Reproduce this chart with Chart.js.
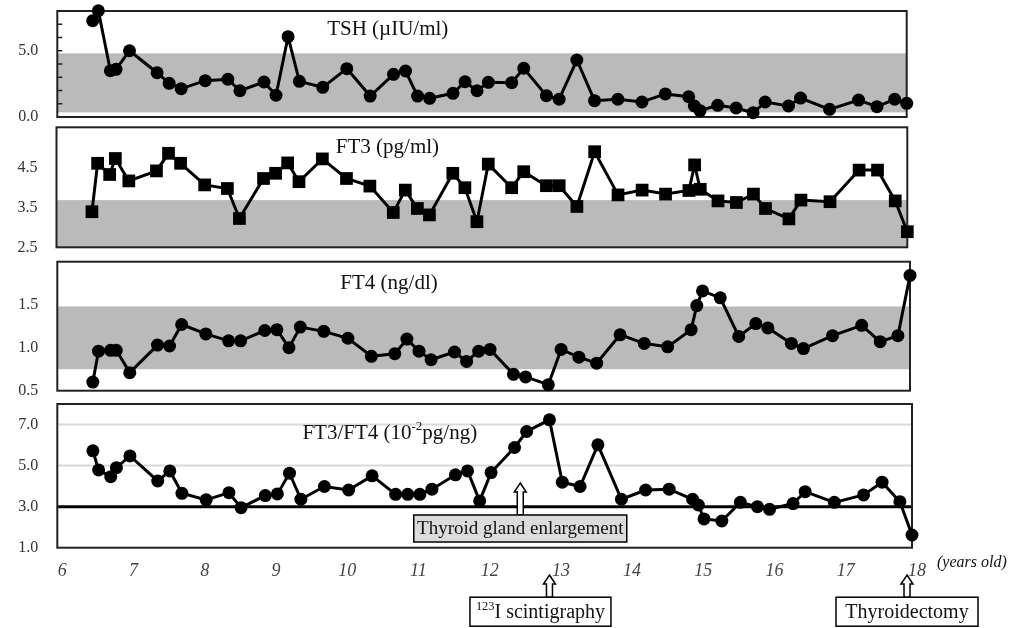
<!DOCTYPE html>
<html lang="en">
<head>
<meta charset="UTF-8">
<title>Thyroid function from 6 to 18 years old</title>
<script src="https://cdn.jsdelivr.net/npm/chart.js"></script>
<style>
  html, body { margin: 0; padding: 0; background: #fff; }
  #wrap { position: relative; width: 1026px; height: 628px; overflow: hidden; }
  #wrap canvas { position: absolute; left: 0; }
</style>
</head>
<body>
<div id="wrap">
  <canvas id="tsh"></canvas>
  <canvas id="ft3"></canvas>
  <canvas id="ft4"></canvas>
  <canvas id="ratio"></canvas>
</div>
<script>
// age at each blood test (years)
const ages = [6.50, 6.58, 6.75, 6.83, 7.02, 7.41, 7.58, 7.75, 8.09, 8.41,
              8.58, 8.92, 9.09, 9.26, 9.42, 9.75, 10.09, 10.42, 10.75, 10.92,
              11.09, 11.26, 11.59, 11.76, 11.93, 12.09, 12.42, 12.59, 12.91, 13.09,
              13.34, 13.59, 13.92, 14.26, 14.59, 14.92, 15.00, 15.08, 15.33, 15.59,
              15.83, 16.00, 16.33, 16.50, 16.91, 17.32, 17.58, 17.83, 18.00];

const tsh = [7.27, 8.02, 3.49, 3.60, 5.00, 3.34, 2.54, 2.14, 2.74, 2.85,
             1.98, 2.64, 1.64, 6.06, 2.69, 2.24, 3.65, 1.58, 3.22, 3.47,
             1.58, 1.41, 1.79, 2.66, 1.98, 2.62, 2.59, 3.68, 1.61, 1.34,
             4.30, 1.23, 1.34, 1.13, 1.74, 1.53, 0.83, 0.48, 0.88, 0.68,
             0.32, 1.13, 0.83, 1.43, 0.58, 1.28, 0.78, 1.34, 1.03];

const ft3 = [3.39, 4.60, 4.32, 4.72, 4.16, 4.41, 4.85, 4.60, 4.06, 3.97,
             3.22, 4.22, 4.35, 4.61, 4.14, 4.71, 4.22, 4.03, 3.37, 3.93,
             3.47, 3.31, 4.35, 3.99, 3.14, 4.58, 3.99, 4.39, 4.04, 4.04,
             3.52, 4.89, 3.81, 3.93, 3.83, 3.92, 4.56, 3.95, 3.66, 3.62,
             3.83, 3.47, 3.21, 3.68, 3.64, 4.43, 4.43, 3.66, 2.89];

const ft4 = [0.60, 0.96, 0.97, 0.97, 0.71, 1.03, 1.02, 1.27, 1.16, 1.08,
             1.08, 1.20, 1.21, 1.00, 1.24, 1.19, 1.11, 0.90, 0.93, 1.10,
             0.96, 0.86, 0.95, 0.84, 0.96, 0.98, 0.69, 0.66, 0.57, 0.98,
             0.89, 0.82, 1.15, 1.05, 1.01, 1.21, 1.49, 1.66, 1.58, 1.13,
             1.28, 1.23, 1.05, 0.99, 1.14, 1.26, 1.07, 1.14, 1.84];

const ratio = [5.72, 4.79, 4.46, 4.90, 5.47, 4.25, 4.74, 3.65, 3.33, 3.68,
               2.95, 3.54, 3.62, 4.63, 3.36, 3.98, 3.81, 4.50, 3.60, 3.60,
               3.60, 3.85, 4.55, 4.74, 3.28, 4.66, 5.88, 6.66, 7.23, 4.19,
               3.98, 6.01, 3.36, 3.81, 3.85, 3.36, 3.08, 2.40, 2.30, 3.21,
               3.00, 2.87, 3.15, 3.73, 3.21, 3.57, 4.19, 3.24, 1.62];

// tick labels
const xTicks = [6, 7, 8, 9, 10, 11, 12, 13, 14, 15, 16, 17, 18];
const tshTicks = [0, 5];
const tshMinorTicks = [1, 2, 3, 4, 5, 6, 7];
const ft3Ticks = [2.5, 3.5, 4.5];
const ft4Ticks = [0.5, 1.0, 1.5];
const ratioTicks = [1, 3, 5, 7];

// reference ranges (grey bands) and FT3/FT4 cut-off
const tshRange = [0.35, 4.8];
const ft3Range = [2.3, 3.68];
const ft4Range = [0.75, 1.48];
const ratioCutoff = 3.0;
const ratioGrid = [5, 7];

// events
const enlargementAge = 12.5;
const scintigraphyAge = 12.91;
const thyroidectomyAge = 17.93;

const SERIF = "'Liberation Serif', 'Times New Roman', serif";
const X_AXIS_H = 40;

function drawRich(ctx, parts, cx, cy, size, align) {
  const fonts = parts.map(p => (p.italic ? 'italic ' : '') + (p.sup ? size * 0.62 : size) + 'px ' + SERIF);
  let total = 0;
  const widths = parts.map((p, i) => { ctx.font = fonts[i]; const w = ctx.measureText(p.t).width; total += w; return w; });
  let x = align === 'left' ? cx : cx - total / 2;
  ctx.textBaseline = 'middle';
  ctx.textAlign = 'left';
  ctx.fillStyle = '#111';
  parts.forEach((p, i) => {
    ctx.font = fonts[i];
    ctx.fillText(p.t, x, p.sup ? cy - size * 0.3 : cy);
    x += widths[i];
  });
}

function blockArrow(ctx, cx, tipY, baseY) {
  const sw = 3, hw = 6, hl = 9;
  ctx.beginPath();
  ctx.moveTo(cx, tipY);
  ctx.lineTo(cx + hw, tipY + hl);
  ctx.lineTo(cx + sw, tipY + hl);
  ctx.lineTo(cx + sw, baseY);
  ctx.lineTo(cx - sw, baseY);
  ctx.lineTo(cx - sw, tipY + hl);
  ctx.lineTo(cx - hw, tipY + hl);
  ctx.closePath();
  ctx.fillStyle = '#fff';
  ctx.fill();
  ctx.strokeStyle = '#000';
  ctx.lineWidth = 1.5;
  ctx.stroke();
}

const notes = [
  { age: enlargementAge, parts: [{ t: 'Thyroid gland enlargement' }], tipDy: -64.7, boxDy: -32.7, boxH: 27, boxW: 213, dx: 0, fill: '#dcdcdc', size: 19 },
  { age: scintigraphyAge, parts: [{ t: '123', sup: true }, { t: 'I scintigraphy' }], tipDy: 27.3, boxDy: 49.5, boxH: 29, boxW: 141, dx: -9, fill: '#fff', size: 20 },
  { age: thyroidectomyAge, parts: [{ t: 'Thyroidectomy' }], tipDy: 27.3, boxDy: 49.5, boxH: 29, boxW: 142, dx: 0, fill: '#fff', size: 20 }
];

function deco(p) {
  return {
    id: 'deco_' + p.id,
    beforeDatasetsDraw(chart) {
      const { ctx, chartArea: a, scales: { y } } = chart;
      ctx.save();
      if (p.band) {
        const y1 = Math.max(a.top, y.getPixelForValue(p.band[1]));
        const y0 = Math.min(a.bottom, y.getPixelForValue(p.band[0]));
        ctx.fillStyle = '#bababa';
        ctx.fillRect(a.left, y1, a.right - a.left, y0 - y1);
      }
      (p.grid || []).forEach(v => {
        const py = y.getPixelForValue(v);
        ctx.strokeStyle = '#d9d9d9';
        ctx.lineWidth = 2;
        ctx.beginPath(); ctx.moveTo(a.left, py); ctx.lineTo(a.right, py); ctx.stroke();
      });
      if (p.cutoff != null) {
        const py = y.getPixelForValue(p.cutoff);
        ctx.strokeStyle = '#000';
        ctx.lineWidth = 3;
        ctx.beginPath(); ctx.moveTo(a.left, py); ctx.lineTo(a.right, py); ctx.stroke();
      }
      ctx.strokeStyle = '#222';
      ctx.lineWidth = 2;
      ctx.strokeRect(a.left, a.top, a.right - a.left, a.bottom - a.top);
      (p.minor || []).forEach(v => {
        const py = y.getPixelForValue(v);
        ctx.lineWidth = 1.5;
        ctx.beginPath(); ctx.moveTo(a.left, py); ctx.lineTo(a.left + 5, py); ctx.stroke();
      });
      drawRich(ctx, p.title, a.left + (a.right - a.left) * 0.389, a.top + p.titleDy, 21);
      ctx.restore();
    },
    afterDraw(chart) {
      if (!p.showX) return;
      const { ctx, chartArea: a, scales: { x } } = chart;
      ctx.save();
      drawRich(ctx, [{ t: '(years old)', italic: true }], a.right + 25, a.bottom + 15, 16, 'left');
      notes.forEach(n => {
        const ax = x.getPixelForValue(n.age);
        const boxTop = a.bottom + n.boxDy;
        blockArrow(ctx, ax, a.bottom + n.tipDy, boxTop);
        const bx = ax + n.dx - n.boxW / 2;
        ctx.fillStyle = n.fill;
        ctx.fillRect(bx, boxTop, n.boxW, n.boxH);
        ctx.strokeStyle = '#000';
        ctx.lineWidth = 1.5;
        ctx.strokeRect(bx, boxTop, n.boxW, n.boxH);
        drawRich(ctx, n.parts, bx + n.boxW / 2, boxTop + n.boxH / 2 + 1, n.size);
      });
      ctx.restore();
    }
  };
}

const panels = [
  { id: 'tsh', values: tsh, top: 11, bottom: 117, left: 57.3, right: 906.7, min: 0, max: 8,
    ticks: tshTicks, minor: tshMinorTicks, band: tshRange, point: 'circle', radius: 6.5,
    title: [{ t: 'TSH (µIU/ml)' }], titleDy: 18 },
  { id: 'ft3', values: ft3, top: 127.3, bottom: 247.3, left: 56.5, right: 907.3, min: 2.5, max: 5.5,
    ticks: ft3Ticks, band: ft3Range, point: 'rect', radius: 9,
    title: [{ t: 'FT3 (pg/ml)' }], titleDy: 20 },
  { id: 'ft4', values: ft4, top: 261.7, bottom: 390.7, left: 57.3, right: 910, min: 0.5, max: 2.0,
    ticks: ft4Ticks, band: ft4Range, point: 'circle', radius: 6.5,
    title: [{ t: 'FT4 (ng/dl)' }], titleDy: 22 },
  { id: 'ratio', values: ratio, top: 404, bottom: 547.7, left: 57.3, right: 912, min: 1, max: 8,
    ticks: ratioTicks, grid: ratioGrid, cutoff: ratioCutoff, point: 'circle', radius: 6.5,
    title: [{ t: 'FT3/FT4 (10' }, { t: '-2', sup: true }, { t: 'pg/ng)' }], titleDy: 29,
    showX: true, canvasBottom: 628 }
];

panels.forEach(p => {
  const cv = document.getElementById(p.id);
  const cTop = Math.floor(p.top) - 10;
  const cBottom = p.canvasBottom || Math.ceil(p.bottom) + 10;
  cv.width = 1026;
  cv.height = cBottom - cTop;
  cv.style.top = cTop + 'px';
  const padTop = p.top - cTop;
  const padBottom = cBottom - p.bottom - (p.showX ? X_AXIS_H : 0);

  new Chart(cv, {
    type: 'scatter',
    data: {
      datasets: [{
        data: ages.map((a, i) => ({ x: a, y: p.values[i] })),
        showLine: true,
        borderColor: '#000',
        borderWidth: 3,
        tension: 0,
        pointStyle: p.point,
        pointRadius: p.radius,
        pointHoverRadius: p.radius,
        pointBackgroundColor: '#000',
        pointBorderColor: '#000',
        pointBorderWidth: 0,
        clip: false
      }]
    },
    options: {
      responsive: false,
      animation: false,
      events: [],
      layout: { padding: { top: padTop, bottom: padBottom, left: 0, right: 1026 - p.right } },
      plugins: { legend: { display: false }, tooltip: { enabled: false } },
      scales: {
        x: {
          type: 'linear', min: 6, max: 18, display: !!p.showX,
          grid: { display: false, drawTicks: false },
          border: { display: false },
          afterBuildTicks: s => { s.ticks = xTicks.map(v => ({ value: v })); },
          afterFit: s => { if (p.showX) s.height = X_AXIS_H; },
          ticks: {
            font: { family: SERIF, size: 18, style: 'italic' }, color: '#444',
            padding: 13, labelOffset: 5, maxRotation: 0, autoSkip: false
          }
        },
        y: {
          min: p.min, max: p.max,
          // invisible tick marks only push the labels away from the frame
          grid: { display: true, drawOnChartArea: false, drawTicks: true, tickLength: 19, color: 'rgba(0,0,0,0)' },
          border: { display: false },
          afterBuildTicks: s => { s.ticks = p.ticks.map(v => ({ value: v })); },
          afterFit: s => { s.width = p.left; },
          ticks: {
            font: { family: SERIF, size: 16 }, color: '#333', padding: 0,
            callback: v => Number(v).toFixed(1)
          }
        }
      }
    },
    plugins: [deco(p)]
  });
});
</script>
</body>
</html>
